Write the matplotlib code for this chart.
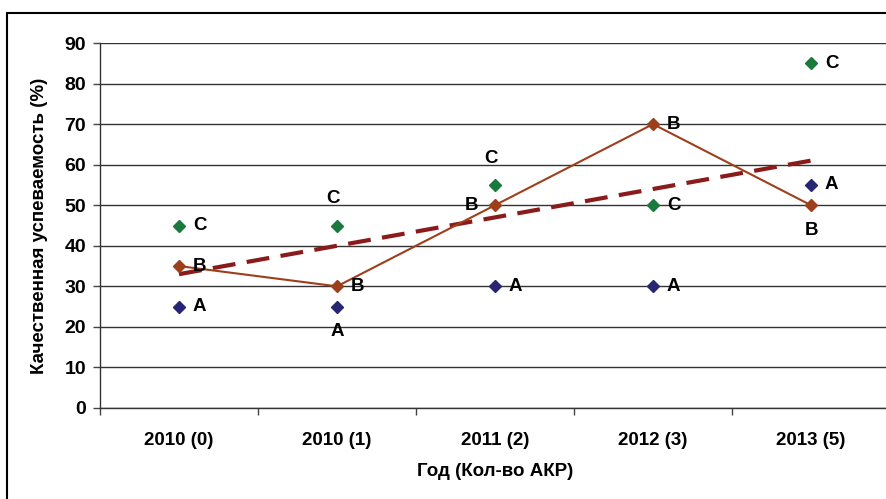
import numpy as np
import matplotlib
matplotlib.use("Agg")
import matplotlib.pyplot as plt
from matplotlib.patches import Rectangle

plt.rcParams['font.family'] = ['Liberation Sans', 'DejaVu Sans']
plt.rcParams['font.weight'] = 'bold'

categories = ["2010 (0)", "2010 (1)", "2011 (2)", "2012 (3)", "2013 (5)"]
series_a = [25, 25, 30, 30, 55]
series_b = [35, 30, 50, 70, 50]
series_c = [45, 45, 55, 50, 85]

# label placement per point: r = right, l = left, t = above, b = below
pos_a = ["r", "b", "r", "r", "r"]
pos_b = ["r", "r", "l", "r", "b"]
pos_c = ["r", "t", "t", "r", "r"]

col_a = "#262673"
col_b = "#9E3F1C"
col_c = "#1A7A3E"
col_trend = "#8B1A1A"

W, H = 887, 499
fig = plt.figure(figsize=(W / 100, H / 100), dpi=100)
ax = fig.add_axes([100 / W, (H - 408) / H, 790 / W, 365 / H])

x = np.arange(len(categories))

# trend line for series B
k, b0 = np.polyfit(x, series_b, 1)
ax.plot(x, k * x + b0, color=col_trend, lw=3.0, dashes=(5.5, 2.75), zorder=3)

ax.plot(x, series_b, color=col_b, lw=1.5, zorder=4)
ms = 6.6
ax.plot(x, series_a, ls="none", marker="D", ms=ms, color=col_a, zorder=5)
ax.plot(x, series_b, ls="none", marker="D", ms=ms, color=col_b, zorder=5)
ax.plot(x, series_c, ls="none", marker="D", ms=ms, color=col_c, zorder=5)

offsets = {"r": ((10, 0), "left", "center"),
           "l": ((-12, 0), "right", "center"),
           "t": ((-3, 13), "center", "bottom"),
           "b": ((0, -12), "center", "top")}


def put_labels(vals, positions, text):
    for xi, v, p in zip(x, vals, positions):
        off, ha, va = offsets[p]
        ax.annotate(text, (xi, v), xytext=off, textcoords="offset points",
                    ha=ha, va=va, fontsize=13.5, fontweight="bold",
                    color="black", zorder=6)


put_labels(series_a, pos_a, "A")
put_labels(series_b, pos_b, "B")
put_labels(series_c, pos_c, "C")

ax.set_ylim(0, 90)
ax.set_yticks(np.arange(0, 91, 10))
ax.set_xlim(-0.5, len(categories) - 0.5)
ax.set_xticks(np.arange(-0.5, len(categories), 1.0))
ax.set_xticklabels([])
ax.set_xticks(x, minor=True)
ax.set_xticklabels(categories, minor=True)
ax.tick_params(axis="x", which="major", length=5, width=1, direction="out", color="#444444")
ax.tick_params(axis="x", which="minor", length=0, pad=17, labelsize=13.5)
ax.tick_params(axis="y", length=5, width=1, direction="out", pad=5, labelsize=14,
               color="#444444")
for lbl in ax.get_xticklabels(minor=True) + ax.get_yticklabels():
    lbl.set_fontweight("bold")

ax.grid(axis="y", color="#333333", lw=1.0, zorder=0)
ax.set_axisbelow(True)
for s in ["top", "right"]:
    ax.spines[s].set_visible(False)
for s in ["left", "bottom"]:
    ax.spines[s].set_color("#333333")
    ax.spines[s].set_linewidth(1.0)

ax.set_ylabel("Качественная успеваемость (%)", fontsize=13.5, fontweight="bold",
              labelpad=12)
ax.set_xlabel("Год (Кол-во АКР)", fontsize=13.5, fontweight="bold", labelpad=10)

fig.patches.append(Rectangle((7.5 / W, -0.1), 1.2, 1.1 - 12.5 / H,
                             transform=fig.transFigure, fill=False,
                             edgecolor="black", lw=1.5))

fig.savefig("out.png", dpi=100)
